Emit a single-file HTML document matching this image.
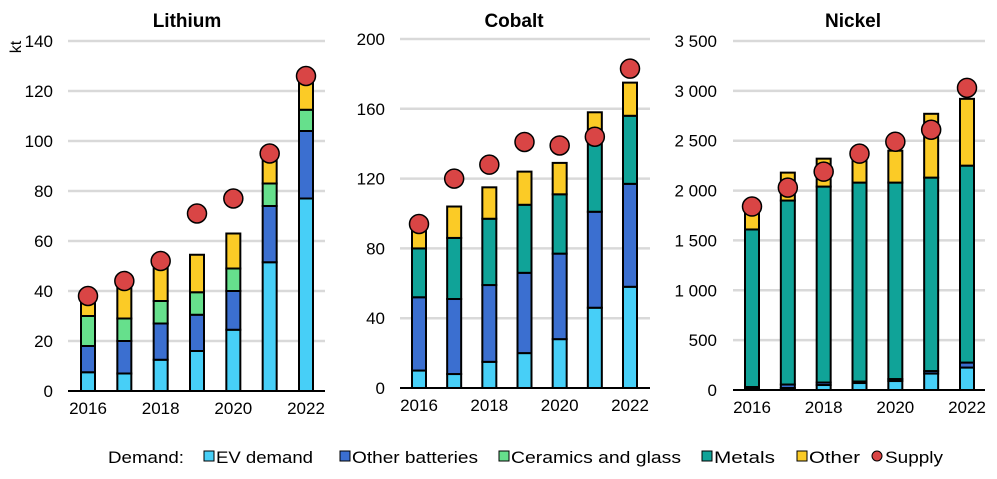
<!DOCTYPE html>
<html><head><meta charset="utf-8"><style>
body{margin:0;background:#fff;font-family:"Liberation Sans",Arial,sans-serif}
svg text{font-family:"Liberation Sans",Arial,sans-serif}
</style></head><body>
<svg id="c" width="997" height="474" viewBox="0 0 997 474"></svg>
<script>
const years=["2016","2017","2018","2019","2020","2021","2022"];
const seriesNames=["EV demand","Other batteries","Ceramics and glass","Metals","Other"];
const colors=["#47cff7","#3b6fd0","#66e08c","#10a398","#fbcb26"];
// Lithium (kt)
const liEV=[7.5,7,12.5,16,24.5,51.5,77];
const liOB=[10.5,13,14.5,14.5,15.5,22.5,27];
const liCer=[12,9,9,9,9,9,8.5];
const liMet=[0,0,0,0,0,0,0];
const liOth=[7.5,13,15,15,14,14,11.5];
const liSup=[38,44,52,71,77,95,126];
const liTicks=[0,20,40,60,80,100,120,140];
// Cobalt
const coEV=[10,8,15,20,28,46,58];
const coOB=[42,43,44,46,49,55,59];
const coCer=[0,0,0,0,0,0,0];
const coMet=[28,35,38,39,34,40,39];
const coOth=[12,18,18,19,18,17,19];
const coSup=[94,120,128,141,139,144,183];
const coTicks=[0,40,80,120,160,200];
// Nickel
const niEV=[10,20,50,70,90,165,225];
const niOB=[20,35,25,15,20,25,50];
const niCer=[0,0,0,0,0,0,0];
const niMet=[1580,1845,1965,1995,1970,1940,1975];
const niOth=[190,280,280,260,320,640,670];
const niSup=[1840,2030,2190,2370,2490,2610,3030];
const niTicks=[0,500,1000,1500,2000,2500,3000,3500];
const tickLabelsNi=["0","500","1 000","1 500","2 000","2 500","3 000","3 500"];

const NS="http://www.w3.org/2000/svg";
const svg=document.getElementById('c');
function mk(tag,attrs,parent){const e=document.createElementNS(NS,tag);for(const k in attrs)e.setAttribute(k,attrs[k]);(parent||svg).appendChild(e);return e;}

function panel(name,title,series,sup,ticks,labels,x0,x1,yTop,yBot,max,c0,c1,titleX,tickX){
  const g=mk('g',{});
  
  
  const y=v=>yBot-(v/max)*(yBot-yTop);
  const xc=i=>c0+i*(c1-c0)/(years.length-1);
  const t=mk('text',{x:titleX,y:27,'text-anchor':'middle','font-size':19,'font-weight':'bold',fill:'#000'},g);
  t.textContent=title;
  
  
  ticks.forEach((v,i)=>{
    if(v>0){const l=mk('line',{x1:x0,x2:x1,y1:y(v),y2:y(v),stroke:'#d9d9d9','stroke-width':2.5},g);
      
      }
    const tl=mk('text',{x:tickX,y:y(v)+6,'text-anchor':'end','font-size':17,fill:'#000'},g);
    tl.textContent=labels[i];
    
    
  });
  const bw=14;
  years.forEach((yr,i)=>{
    let acc=0;
    series.forEach((s,k)=>{
      const v=s[i]; if(v<=0) return;
      const r=mk('rect',{x:xc(i)-bw/2,y:y(acc+v),width:bw,height:y(acc)-y(acc+v),fill:colors[k],stroke:'#000','stroke-width':2},g);
      
      
      acc+=v;
    });
    if(i%2===0){const xl=mk('text',{x:xc(i),y:yBot+23,'text-anchor':'middle','font-size':17,fill:'#000'},g);
      xl.textContent=yr;
      
      }
  });
  const ax=mk('line',{x1:x0,x2:x1,y1:yBot,y2:yBot,stroke:'#000','stroke-width':2},g);
  
  
  years.forEach((yr,i)=>{
    const c=mk('circle',{cx:xc(i),cy:y(sup[i]),r:9.5,fill:'#d94545',stroke:'#000','stroke-width':1.5},g);
    
    
  });
}
panel('lithium','Lithium',[liEV,liOB,liCer,liMet,liOth],liSup,liTicks,liTicks.map(String),68,325,41,391,140,88,306,187,53);
panel('cobalt','Cobalt',[coEV,coOB,coCer,coMet,coOth],coSup,coTicks,coTicks.map(String),400,650,39,388,200,419,630,514,385);
panel('nickel','Nickel',[niEV,niOB,niCer,niMet,niOth],niSup,niTicks,tickLabelsNi,733,985,41,390,3500,752,967,853,717);
const kt=mk('text',{x:21,y:47,'text-anchor':'middle','font-size':16,transform:'rotate(-90 21 47)',fill:'#000'});
kt.textContent='kt';



const lg=mk('g',{});


const dl=mk('text',{x:108,y:463,'font-size':17,fill:'#000',textLength:76,lengthAdjust:'spacingAndGlyphs'},lg);
dl.textContent='Demand:';


const lgX=[209,345,504,707,802];
const lgW=[97,126,170,61,51];
seriesNames.forEach((n,k)=>{
  const r=mk('rect',{x:lgX[k]-5,y:451,width:10,height:10,fill:colors[k],stroke:'#000','stroke-width':1},lg);
  
  
  const t=mk('text',{x:lgX[k]+7,y:463,'font-size':17,fill:'#000',textLength:lgW[k],lengthAdjust:'spacingAndGlyphs'},lg);
  t.textContent=n;
  
  
});
const sc=mk('circle',{cx:877,cy:456,r:5,fill:'#d94545',stroke:'#000','stroke-width':1},lg);


const st=mk('text',{x:885,y:463,'font-size':17,fill:'#000',textLength:58,lengthAdjust:'spacingAndGlyphs'},lg);
st.textContent='Supply';


</script>
</body></html>
